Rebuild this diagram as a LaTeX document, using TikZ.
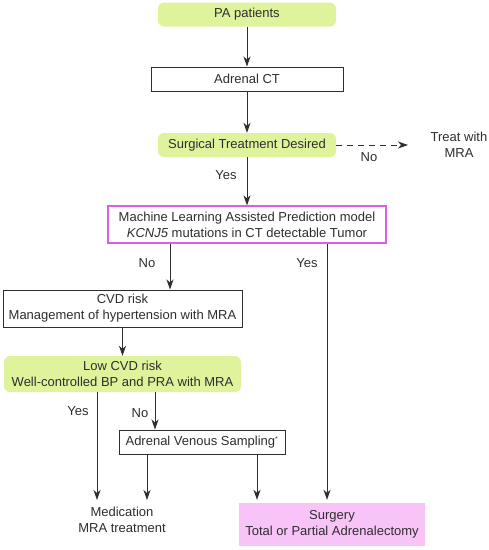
\documentclass[tikz,border=0pt]{standalone}
\usepackage{fontspec}
\setmainfont{Liberation Sans}
\usetikzlibrary{arrows.meta,calc}
\definecolor{lgreen}{HTML}{DFF39D}
\definecolor{lpink}{HTML}{F8C4F8}
\definecolor{magb}{HTML}{E05CE0}
\definecolor{ink}{HTML}{2E2E2E}
\begin{document}
\begin{tikzpicture}[x=1pt,y=-1pt,
  font=\fontsize{13}{16}\selectfont, text=ink,
  greenbox/.style={fill=lgreen, rounded corners=6pt, minimum height=24pt, inner sep=0pt, align=center},
  plainbox/.style={draw=ink, line width=1pt, fill=white, inner sep=0pt, align=center},
  mlbox/.style={draw=magb, line width=1.2pt, inner sep=0pt, align=center},
  pinkbox/.style={fill=lpink, inner sep=0pt, align=center},
  txt/.style={inner sep=0pt, align=center},
  arr/.style={draw=ink, line width=1pt, -{Stealth[length=10pt,width=7pt,inset=3pt]}},
  plain/.style={draw=ink, line width=1pt}
]
\useasboundingbox (0,0) rectangle (489,550);
\fill[white] (0,0) rectangle (489,550);

\node[greenbox, minimum width=178pt] (pa) at (247,14.5) {PA patients};
\node[plainbox, minimum width=192pt, minimum height=24pt] (ct) at (247,79) {Adrenal CT};
\node[greenbox, minimum width=178pt] (surg) at (247,145) {Surgical Treatment Desired};
\node[txt] (treat) at (459,145) {Treat with\\MRA};
\coordinate (treatend) at (408,145);
\node[mlbox, minimum width=278pt, minimum height=37pt] (ml) at (247,224.5) {Machine Learning Assisted Prediction model\\\textit{KCNJ5} mutations in CT detectable Tumor};
\node[plainbox, minimum width=239pt, minimum height=37pt] (cvd) at (122.5,308.5) {CVD risk\\Management of hypertension with MRA};
\node[greenbox, minimum width=237pt, minimum height=36pt] (low) at (122.5,374) {Low CVD risk\\Well-controlled BP and PRA with MRA};
\node[plainbox, minimum width=166pt, minimum height=24pt] (avs) at (202,442) {Adrenal Venous Sampling\textsuperscript{\scriptsize *}};
\node[txt] (med) at (122,519.5) {Medication\\MRA treatment};
\node[pinkbox, minimum width=186pt, minimum height=43pt] (surgery) at (332,524.5) {Surgery\\Total or Partial Adrenalectomy};

\coordinate (x170) at (170,0);
\coordinate (x327) at (327,0);
\coordinate (x97) at (97,0);
\coordinate (x155) at (155,0);
\coordinate (x147) at (147,0);
\coordinate (x257) at (257,0);
\coordinate (medA) at (97,500);
\coordinate (medB) at (147,500);

\draw[arr] (pa.south) -- (ct.north);
\draw[arr] (ct.south) -- (surg.north);
\draw[arr, dashed, dash pattern=on 6pt off 5pt] (surg.east) -- (treatend);
\node[txt] (lno1) at (369,157) {No};
\draw[arr] (surg.south) -- (ml.north);
\node[txt] (lyes1) at (226,175) {Yes};
\draw[arr] (ml.south -| x170) -- (cvd.north -| x170);
\node[txt] (lno2) at (147,263) {No};
\draw[arr, shorten >=3pt] (ml.south -| x327) -- (surgery.north -| x327);
\node[txt] (lyes2) at (307,263) {Yes};
\draw[arr] (cvd.south) -- (low.north);
\draw[arr] (low.south -| x97) -- (medA);
\node[txt] (lyes3) at (78,411) {Yes};
\draw[arr] (low.south -| x155) -- (avs.north -| x155);
\node[txt] (lno3) at (140,413) {No};
\draw[arr] (avs.south -| x147) -- (medB);
\draw[arr, shorten >=3pt] (avs.south -| x257) -- (surgery.north -| x257);
\end{tikzpicture}
\end{document}
